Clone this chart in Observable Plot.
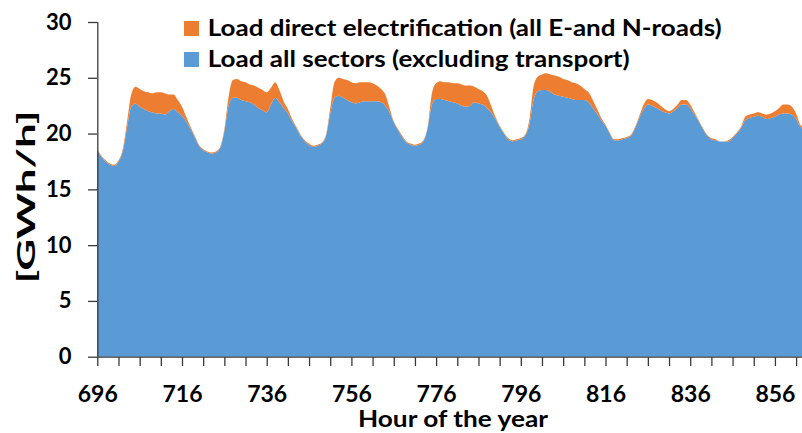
<!DOCTYPE html>
<html>
<head>
<meta charset="utf-8">
<script src="https://cdn.jsdelivr.net/npm/d3@7"></script>
<script src="https://cdn.jsdelivr.net/npm/@observablehq/plot@0.6"></script>
<style>
  html, body { margin: 0; padding: 0; background: #fff; overflow: hidden; }
  #chart { position: relative; width: 802px; height: 433px; overflow: hidden; }
</style>
</head>
<body>
<div id="chart"></div>
<script>
// ---- data ----
const startHour = 696;
const baseLoad = [
  18.5, 17.9, 17.5, 17.2, 17.1, 17.5, 18.4, 20.5, 22.4, 22.7, 22.4, 22.2, 22.0, 21.9, 21.8, 21.8, 21.7, 22.0, 22.2, 21.9, 21.6, 21.1, 20.4, 19.7, 18.9, 18.5, 18.3, 18.2,
  18.3, 18.7, 20.2, 22.5, 23.2, 23.2, 23.0, 22.9, 22.8, 22.6, 22.3, 22.1, 21.9, 22.6, 23.2, 22.8, 22.3, 21.8, 21.1, 20.5, 19.8, 19.3, 19.0, 18.8,
  18.9, 19.1, 19.8, 21.8, 23.2, 23.4, 23.2, 23.0, 22.8, 22.7, 22.8, 22.9, 22.9, 22.9, 22.9, 22.8, 22.5, 21.9, 21.0, 20.3, 19.7, 19.2, 19.0, 18.9,
  19.0, 19.3, 20.5, 22.6, 23.1, 23.1, 23.0, 22.9, 22.8, 22.7, 22.5, 22.4, 22.5, 22.8, 22.7, 22.6, 22.3, 21.9, 21.3, 20.6, 20.0, 19.5, 19.3, 19.4,
  19.5, 19.8, 20.8, 23.0, 23.8, 23.9, 23.9, 23.7, 23.5, 23.4, 23.3, 23.2, 23.1, 23.0, 23.0, 23.0, 22.8, 22.3, 21.8, 21.2, 20.7, 20.0, 19.4, 19.4,
  19.5, 19.6, 19.8, 20.5, 21.4, 22.2, 22.6, 22.5, 22.3, 22.1, 21.9, 21.8, 22.0, 22.3, 22.6, 22.6, 22.3, 21.7, 21.1, 20.4, 19.8, 19.5, 19.4, 19.3,
  19.3, 19.3, 19.6, 20.0, 20.5, 21.2, 21.4, 21.5, 21.6, 21.5, 21.3, 21.4, 21.5, 21.7, 21.8, 21.8, 21.7, 21.3, 20.6, 20.3, 19.9
];
const totalLoad = [
  18.6, 18.0, 17.6, 17.3, 17.2, 17.6, 18.6, 21.0, 23.5, 24.2, 24.0, 23.8, 23.7, 23.6, 23.7, 23.7, 23.6, 23.5, 23.5, 23.0, 22.4, 21.5, 20.6, 19.8, 19.0, 18.6, 18.4, 18.3,
  18.4, 18.8, 20.4, 23.3, 24.8, 24.9, 24.7, 24.6, 24.4, 24.3, 24.1, 23.9, 23.7, 24.1, 24.6, 23.9, 22.9, 22.2, 21.3, 20.6, 19.9, 19.4, 19.1, 18.9,
  19.0, 19.2, 19.9, 22.3, 24.6, 25.0, 24.9, 24.8, 24.6, 24.5, 24.6, 24.6, 24.6, 24.5, 24.3, 24.0, 23.5, 22.3, 21.1, 20.4, 19.8, 19.3, 19.1, 19.0,
  19.1, 19.4, 20.6, 23.6, 24.5, 24.7, 24.6, 24.6, 24.5, 24.5, 24.4, 24.3, 24.3, 24.2, 24.0, 23.8, 23.4, 22.5, 21.5, 20.7, 20.1, 19.6, 19.4, 19.5,
  19.6, 19.9, 21.2, 24.2, 25.1, 25.3, 25.4, 25.3, 25.2, 25.1, 24.9, 24.8, 24.6, 24.5, 24.3, 24.0, 23.7, 23.0, 22.2, 21.4, 20.8, 20.1, 19.5, 19.5,
  19.6, 19.7, 19.9, 20.6, 21.6, 22.6, 23.1, 23.0, 22.8, 22.5, 22.2, 22.0, 22.2, 22.6, 23.0, 23.0, 22.6, 21.9, 21.2, 20.5, 19.9, 19.6, 19.5, 19.3,
  19.3, 19.4, 19.7, 20.1, 20.6, 21.5, 21.7, 21.8, 21.9, 21.8, 21.7, 21.8, 22.0, 22.3, 22.6, 22.6, 22.4, 21.8, 20.8, 20.5, 20.1
];
const seriesNames = ["Load all sectors (excluding transport)", "Load direct electrification (all E-and N-roads)"];
const seriesColors = ["#5B9BD5", "#ED7D31"];
const yTicks = [0, 5, 10, 15, 20, 25, 30];
const xTickLabels = [696, 716, 736, 756, 776, 796, 816, 836, 856];
const xMinorTicks = [696,701,706,711,716,721,726,731,736,741,746,751,756,761,766,771,776,781,786,791,796,801,806,811,816,821,826,831,836,841,846,851,856,861];
const xTitle = "Hour of the year";
const yTitle = "[GWh/h]";

// long-format table for the stack
const rows = [];
baseLoad.forEach((v, i) => {
  rows.push({hour: startHour + i, series: seriesNames[0], value: v});
  rows.push({hour: startHour + i, series: seriesNames[1], value: +(totalLoad[i] - v).toFixed(2)});
});

const axisColor = "#3a3a3a";
const chart = Plot.plot({
  width: 802,
  height: 433,
  marginTop: 22,
  marginBottom: 76,
  marginLeft: 97,
  marginRight: 0,
  style: {fontFamily: "Lato, 'Open Sans', sans-serif", fontWeight: "bold", fontSize: "22px", color: "#000", background: "#fff"},
  x: {domain: [696, 864], range: [97.3, 808.8]},
  y: {domain: [0, 30], range: [356.7, 22]},
  color: {domain: seriesNames, range: seriesColors},
  marks: [
    Plot.areaY(rows, {x: "hour", y: "value", z: "series", fill: "series", order: seriesNames, curve: "monotone-x"}),
    Plot.ruleY([0], {stroke: axisColor, strokeWidth: 1.3}),
    Plot.ruleX([696], {y1: 0, y2: 30, stroke: axisColor, strokeWidth: 1.3}),
    Plot.axisY({ticks: yTicks, tickSize: 9, tickPadding: 17, label: null, stroke: axisColor, strokeWidth: 1.3, fill: "#000"}),
    Plot.axisX({ticks: xMinorTicks, tickSize: 9, tickFormat: () => "", label: null, stroke: axisColor, strokeWidth: 1.3}),
    Plot.axisX({ticks: xTickLabels, tickSize: 0, tickPadding: 28, label: null, fill: "#000", fontSize: 23, tickFormat: d => String(d)})
  ]
});
document.getElementById("chart").appendChild(chart);

// titles and legend
const svg = d3.select(chart);
const g = svg.append("g").attr("font-family", "Lato, 'Open Sans', sans-serif").attr("font-weight", "bold").attr("font-size", 22).attr("fill", "#000").attr("text-anchor", "start");
function fit(sel, w) {
  const n = sel.node();
  const len = n.getComputedTextLength();
  if (Math.abs(len - w) > 2) sel.attr("textLength", w).attr("lengthAdjust", "spacingAndGlyphs");
}
fit(g.append("text").attr("x", 453).attr("y", 426.7).attr("text-anchor", "middle").text(xTitle), 190);
fit(g.append("text").attr("transform", "translate(35,197) rotate(-90)").attr("font-size", 24).attr("text-anchor", "middle").text(yTitle), 173);

const legendOrder = [1, 0];
legendOrder.forEach((si, k) => {
  const base = 36 + k * 31;
  g.append("rect").attr("x", 184).attr("y", base - 15).attr("width", 15).attr("height", 15).attr("fill", seriesColors[si]);
  fit(g.append("text").attr("x", 207.7).attr("y", base).attr("text-anchor", "start").text(seriesNames[si]), k === 0 ? 514 : 422);
});
</script>
</body>
</html>
